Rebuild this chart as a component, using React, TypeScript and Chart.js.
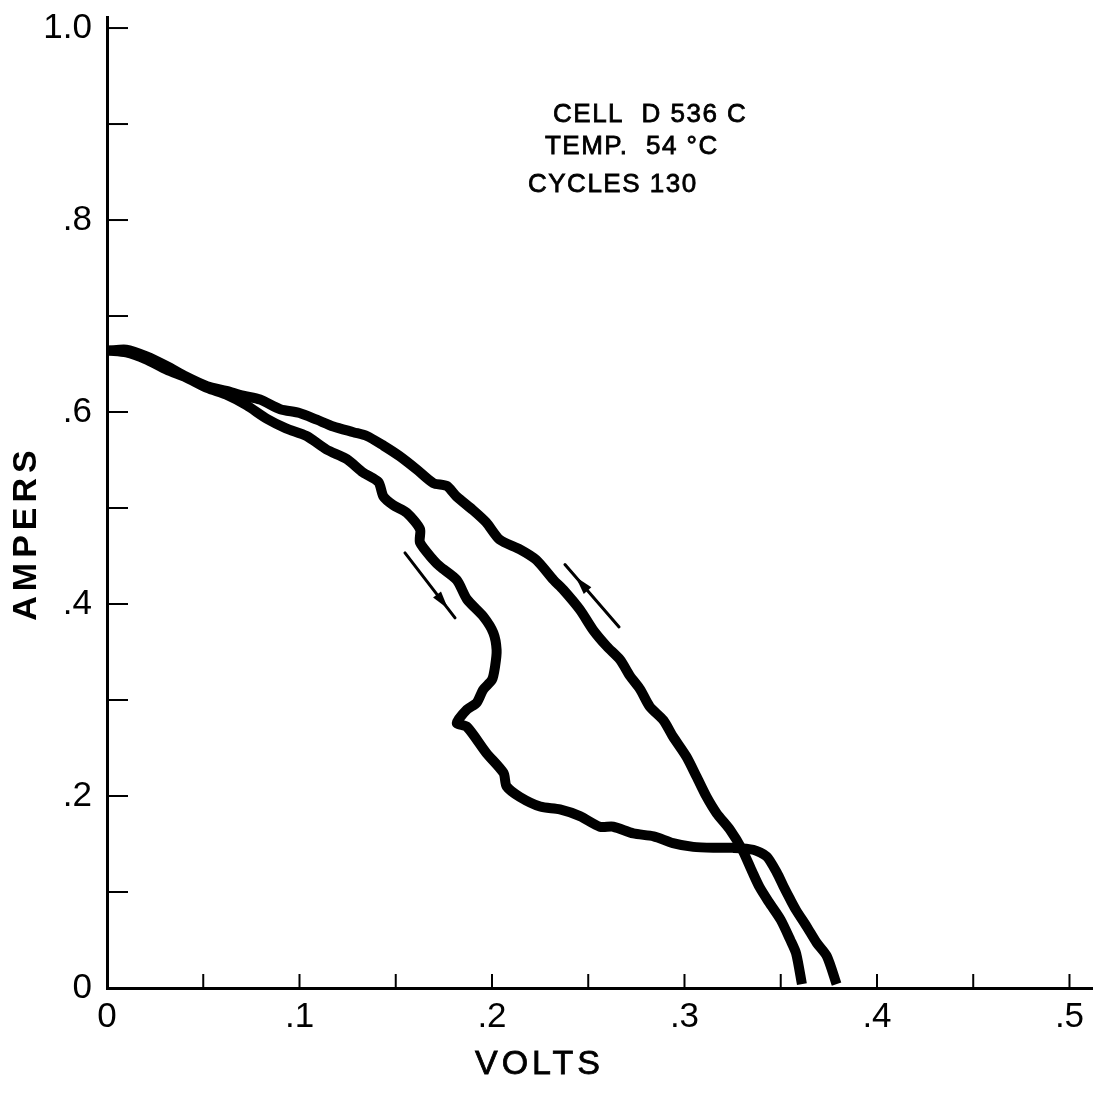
import { useEffect, useRef } from "react";
import { Chart, registerables } from "chart.js";

Chart.register(...registerables);

// Return branch (arrow pointing up-left): from open circuit back to short circuit
const upVolts = [
  0.361, 0.358, 0.355, 0.35, 0.344, 0.339, 0.335, 0.33, 0.3236, 0.3167, 0.3115,
  0.3063, 0.301, 0.294, 0.289, 0.282, 0.277, 0.2717, 0.2665, 0.2596, 0.2525,
  0.2457, 0.237, 0.232, 0.223, 0.2145, 0.204, 0.197, 0.19, 0.1816, 0.1765,
  0.1695, 0.161, 0.152, 0.1436, 0.135, 0.128, 0.1176, 0.109, 0.1, 0.09, 0.0795,
  0.0707, 0.062, 0.052, 0.041, 0.031, 0.0206, 0.01, 0.001,
];
const upAmps = [
  0.004, 0.036, 0.05, 0.071, 0.089, 0.105, 0.122, 0.144, 0.165, 0.182, 0.199,
  0.22, 0.241, 0.262, 0.279, 0.293, 0.311, 0.325, 0.342, 0.356, 0.373, 0.394,
  0.415, 0.425, 0.446, 0.457, 0.467, 0.485, 0.498, 0.512, 0.523, 0.526, 0.54,
  0.554, 0.565, 0.575, 0.579, 0.585, 0.592, 0.599, 0.603, 0.613, 0.617, 0.622,
  0.627, 0.637, 0.648, 0.658, 0.665, 0.664,
];

// Outgoing branch (arrow pointing down-right): from short circuit to open circuit
const downVolts = [
  0.001, 0.01, 0.02, 0.031, 0.041, 0.052, 0.062, 0.0725, 0.083, 0.093, 0.1037,
  0.114, 0.1245, 0.133, 0.141, 0.1436, 0.1487, 0.1557, 0.1626, 0.1626, 0.1695,
  0.173, 0.1817, 0.187, 0.1955, 0.2007, 0.2024, 0.2016, 0.2, 0.1955, 0.192,
  0.187, 0.1817, 0.187, 0.197, 0.206, 0.2076, 0.2145, 0.225, 0.2353, 0.2457,
  0.256, 0.263, 0.2734, 0.284, 0.294, 0.3046, 0.315, 0.325, 0.3357, 0.3427,
  0.348, 0.3514, 0.355, 0.358, 0.3635, 0.3687, 0.374, 0.379,
];
const downAmps = [
  0.664, 0.662, 0.655, 0.644, 0.636, 0.625, 0.618, 0.607, 0.593, 0.583, 0.575,
  0.561, 0.551, 0.537, 0.527, 0.512, 0.503, 0.495, 0.478, 0.464, 0.446, 0.439,
  0.425, 0.405, 0.387, 0.37, 0.352, 0.335, 0.321, 0.311, 0.297, 0.29, 0.276,
  0.272, 0.245, 0.224, 0.21, 0.199, 0.189, 0.186, 0.179, 0.168, 0.168, 0.161,
  0.158, 0.151, 0.147, 0.146, 0.146, 0.144, 0.137, 0.12, 0.106, 0.092, 0.081,
  0.064, 0.047, 0.033, 0.004,
];

const voltTicks = [0, 0.05, 0.1, 0.15, 0.2, 0.25, 0.3, 0.35, 0.4, 0.45, 0.5];
const voltLabels = ["0", "", ".1", "", ".2", "", ".3", "", ".4", "", ".5"];
const ampTicks = [0, 0.1, 0.2, 0.3, 0.4, 0.5, 0.6, 0.7, 0.8, 0.9, 1.0];
const ampLabels = ["0", "", ".2", "", ".4", "", ".6", "", ".8", "", "1.0"];

// Direction arrows: [tail, end] in data units, head fraction along the shaft
const arrowDownVolts = [0.1548, 0.1808];
const arrowDownAmps = [0.4533, 0.3855];
const arrowUpVolts = [0.266, 0.2379];
const arrowUpAmps = [0.3761, 0.4411];

const noteLines = ["CELL  D 536 C", "TEMP.  54 °C", "CYCLES 130"];
const noteVolts = [0.2317, 0.2275, 0.2187];
const noteAmps = [0.902, 0.8686, 0.829];

const xTitle = "VOLTS";
const yTitle = "AMPERS";

const FONT = "'Liberation Sans', Arial, sans-serif";

function toPoints(xs: number[], ys: number[]) {
  return xs.map((x, i) => ({ x, y: ys[i] }));
}

const decorPlugin = {
  id: "decor",
  afterDraw(chart: any) {
    const { ctx, chartArea } = chart;
    const xs = chart.scales.x;
    const ys = chart.scales.y;
    ctx.save();
    ctx.strokeStyle = "#000";
    ctx.fillStyle = "#000";
    // inner tick marks
    ctx.lineWidth = 2;
    ampTicks.forEach((v) => {
      if (v === 0) return;
      const y = ys.getPixelForValue(v);
      ctx.beginPath();
      ctx.moveTo(chartArea.left, y);
      ctx.lineTo(chartArea.left + 21, y);
      ctx.stroke();
    });
    voltTicks.forEach((v) => {
      if (v === 0) return;
      const x = xs.getPixelForValue(v);
      ctx.beginPath();
      ctx.moveTo(x, chartArea.bottom);
      ctx.lineTo(x, chartArea.bottom - 14);
      ctx.stroke();
    });

    // arrows
    const drawArrow = (vx: number[], vy: number[], frac: number) => {
      const x0 = xs.getPixelForValue(vx[0]);
      const y0 = ys.getPixelForValue(vy[0]);
      const x1 = xs.getPixelForValue(vx[1]);
      const y1 = ys.getPixelForValue(vy[1]);
      ctx.lineWidth = 3;
      ctx.lineCap = "round";
      ctx.beginPath();
      ctx.moveTo(x0, y0);
      ctx.lineTo(x1, y1);
      ctx.stroke();
      const len = Math.hypot(x1 - x0, y1 - y0);
      const ux = (x1 - x0) / len;
      const uy = (y1 - y0) / len;
      const tx = x0 + (x1 - x0) * frac;
      const ty = y0 + (y1 - y0) * frac;
      const hl = 18;
      const hw = 5;
      ctx.beginPath();
      ctx.moveTo(tx, ty);
      ctx.lineTo(tx - ux * hl - uy * hw, ty - uy * hl + ux * hw);
      ctx.lineTo(tx - ux * hl + uy * hw, ty - uy * hl - ux * hw);
      ctx.closePath();
      ctx.fill();
    };
    drawArrow(arrowDownVolts, arrowDownAmps, 0.86);
    drawArrow(arrowUpVolts, arrowUpAmps, 0.8);

    // annotation block
    ctx.font = `26px ${FONT}`;
    ctx.textAlign = "left";
    ctx.textBaseline = "alphabetic";
    ctx.lineWidth = 0.8;
    (ctx as any).letterSpacing = "1.5px";
    noteLines.forEach((t, i) => {
      const px = xs.getPixelForValue(noteVolts[i]);
      const py = ys.getPixelForValue(noteAmps[i]);
      ctx.fillText(t, px, py);
      ctx.strokeText(t, px, py);
    });

    // axis titles
    ctx.font = `34px ${FONT}`;
    (ctx as any).letterSpacing = "4px";
    ctx.lineWidth = 0.8;
    ctx.fillText(xTitle, 475, 1074);
    ctx.strokeText(xTitle, 475, 1074);

    ctx.font = `bold 34px ${FONT}`;
    (ctx as any).letterSpacing = "5px";
    ctx.translate(36, 533);
    ctx.rotate(-Math.PI / 2);
    ctx.textAlign = "center";
    ctx.fillText(yTitle, 0, 0);
    ctx.restore();
  },
};

export default function App() {
  const ref = useRef<HTMLCanvasElement | null>(null);

  useEffect(() => {
    document.body.style.margin = "0";
    const canvas = ref.current;
    if (!canvas) return;
    const lineStyle = {
      showLine: true,
      borderColor: "#000",
      backgroundColor: "#000",
      borderWidth: 10,
      pointRadius: 0,
      tension: 0.25,
      borderJoinStyle: "round",
      borderCapStyle: "butt",
    };
    const chart = new Chart(canvas, {
      type: "scatter",
      data: {
        datasets: [
          { label: "down", data: toPoints(downVolts, downAmps), ...lineStyle },
          { label: "up", data: toPoints(upVolts, upAmps), ...lineStyle },
        ],
      },
      options: {
        animation: false,
        responsive: false,
        devicePixelRatio: 1,
        layout: { padding: { top: 17, right: 3, left: 0, bottom: 0 } },
        plugins: {
          legend: { display: false },
          tooltip: { enabled: false },
          title: { display: false },
        },
        scales: {
          x: {
            type: "linear",
            min: 0,
            max: 0.5117,
            afterBuildTicks: (s: any) => {
              s.ticks = voltTicks.map((value) => ({ value }));
            },
            afterFit: (s: any) => {
              s.height = 106;
              s.paddingLeft = 0;
              s.paddingRight = 0;
            },
            grid: { display: false },
            border: { display: true, color: "#000", width: 3 },
            ticks: {
              autoSkip: false,
              maxRotation: 0,
              color: "#000",
              padding: 0,
              font: { family: FONT, size: 35 },
              callback: (v: any) => {
                const i = voltTicks.findIndex((t) => Math.abs(t - v) < 1e-6);
                return i >= 0 ? voltLabels[i] : "";
              },
            },
          },
          y: {
            type: "linear",
            min: 0,
            max: 1.0115,
            afterBuildTicks: (s: any) => {
              s.ticks = ampTicks.map((value) => ({ value }));
            },
            afterFit: (s: any) => {
              s.width = 107;
              s.paddingTop = 0;
              s.paddingBottom = 0;
            },
            grid: { display: false },
            border: { display: true, color: "#000", width: 3 },
            ticks: {
              autoSkip: false,
              color: "#000",
              padding: 7,
              font: { family: FONT, size: 35 },
              callback: (v: any) => {
                const i = ampTicks.findIndex((t) => Math.abs(t - v) < 1e-6);
                return i >= 0 ? ampLabels[i] : "";
              },
            },
          },
        },
      },
      plugins: [decorPlugin],
    } as any);
    return () => chart.destroy();
  }, []);

  return (
    <div style={{ width: 1095, height: 1094, background: "#fff" }}>
      <canvas ref={ref} width={1095} height={1094} style={{ display: "block" }} />
    </div>
  );
}
